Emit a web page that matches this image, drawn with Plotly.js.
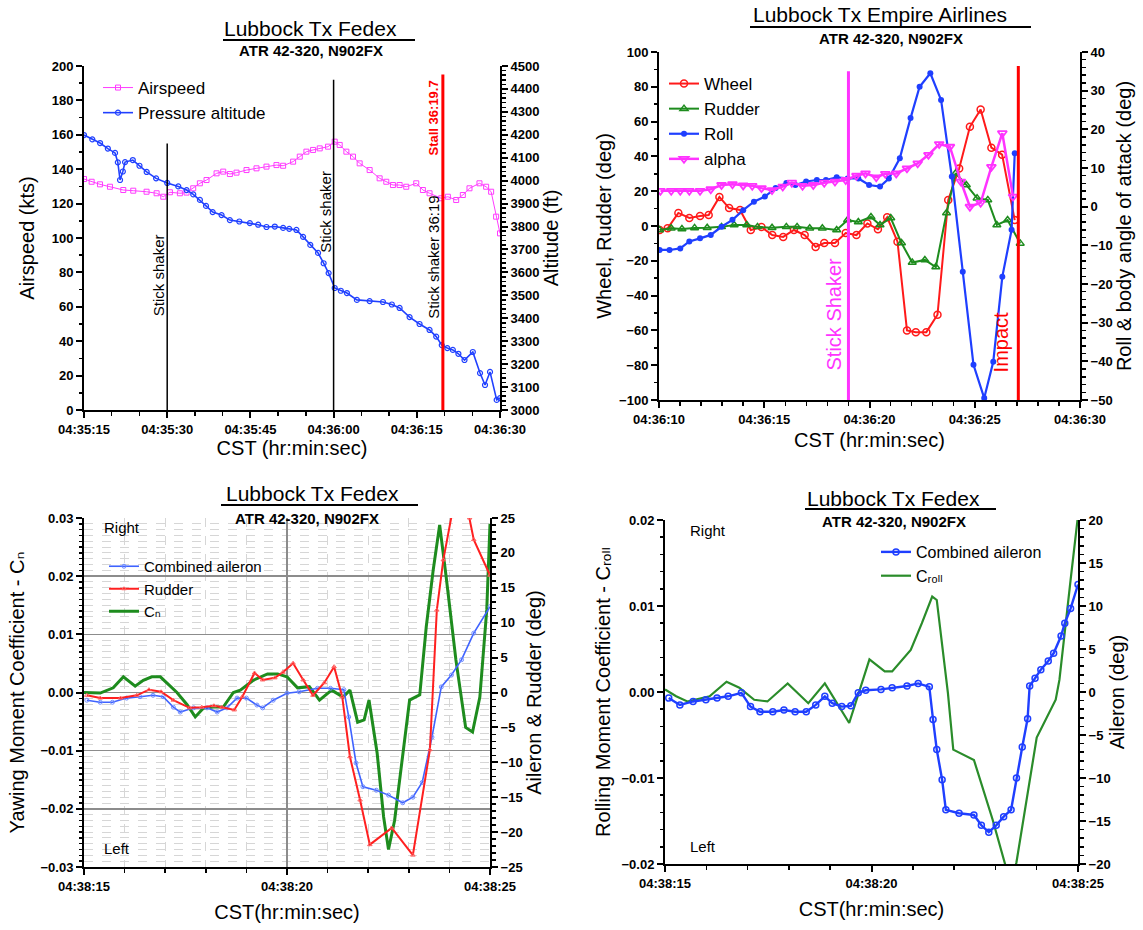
<!DOCTYPE html>
<html><head><meta charset="utf-8">
<script src="https://cdn.plot.ly/plotly-3.0.1.min.js"></script>
<style>html,body{margin:0;padding:0;background:#fff}#chart{width:1143px;height:930px}</style>
</head><body><div id="chart"></div>
<script>
// ---------------- DATA ----------------
// Top-left panel: seconds after 04:35:15
const tlTickVals = [0, 15, 30, 45, 60, 75];
const tlTickText = ["04:35:15", "04:35:30", "04:35:45", "04:36:00", "04:36:15", "04:36:30"];
const tlAirT = [0,1.38,2.88,4.68,7.08,8.88,11.28,13.09,14.29,15.49,17.29,18.49,19.69,20.89,22.09,23.9,25.1,26.3,27.5,29.3,31.1,32.9,34.7,35.9,37.7,38.9,40.1,41.3,42.5,44.0,45.2,46.1,47.3,48.5,49.7,51.5,53.3,54.5,55.7,56.9,58.1,59.9,61.1,62.3,64.4,65.6,67.1,68.3,69.5,71.3,72.5,73.4,74.3,75];
const tlAirKts = [134.3,132.7,131.2,129.8,127.9,127.5,126.9,126.0,124.0,126.6,126.0,126.4,128.9,131.8,133.7,137.6,138.6,137.2,138,139.5,140.5,141.5,142.4,142.0,144.4,147.3,150.2,151.2,152.1,153.1,156.0,154.1,150.2,147.3,143.4,139.5,134.7,132.7,130.8,130.8,129.8,131.8,127.9,126.0,123.1,124.0,122.1,125.0,128.9,131.8,129.8,126.9,112.4,102.7];
const tlAltT = [0,1.5,2.9,4.3,5.6,6.1,6.5,7,7.4,8.8,10,11.3,13,15,17,18.5,19.7,20.9,22,23.2,24.8,26.3,28,29.9,31.4,32.9,34.4,35.9,37,38.3,39.5,40.8,42.2,43.2,44.1,45.2,46.3,47.4,49.2,51.5,53.9,55.5,56.9,58.7,60.5,62.3,63.5,64.5,65.5,66.5,67.5,68.6,70.1,71.4,72.3,73.2,74.4,75];
const tlAltFt = [4199,4180,4164,4140,4121,4080,4003,4040,4081,4090,4065,4038,4010,3990,3975,3959,3940,3916,3890,3863,3850,3828,3822,3815,3808,3798,3800,3794,3790,3785,3755,3720,3685,3640,3597,3532,3520,3510,3480,3475,3471,3460,3445,3405,3375,3349,3320,3283,3270,3262,3245,3218,3253,3161,3109,3166,3044,3052];
const tlEventT = [15, 45, 64.7];
const tlEventTop = [155, 192, 195];
const tlEventColor = ["#000000", "#000000", "#ff0000"];

// Top-right panel: seconds after 04:36:10
const trTickVals = [0, 5, 10, 15, 20];
const trTickText = ["04:36:10", "04:36:15", "04:36:20", "04:36:25", "04:36:30"];
const trWheelT = [0.03,0.41,0.92,1.44,1.95,2.36,2.87,3.33,3.85,4.36,4.87,5.38,5.9,6.41,6.92,7.44,7.85,8.36,8.87,9.38,9.9,10.4,10.84,11.33,11.78,12.2,12.7,13.23,13.74,14.26,14.77,15.28,15.79,16.3,16.9];
const trWheel = [-2.3,-1.3,7.5,4.6,5.7,6.3,16.7,10.3,9.2,-2.3,-0.6,-5.2,-6.3,-2.3,-5.2,-12,-9.8,-9.8,-4,-5.2,1.5,-1.9,5,-9,-60,-61,-61,-51,15,33,57,67,45,41,3.4];
const trRudderT = [0.03,0.58,1.09,1.69,2.29,2.97,3.57,4.17,4.68,5.37,6.05,6.56,7.16,7.76,8.44,8.96,9.47,10.07,10.5,11.01,11.52,12.03,12.63,13.15,13.66,14.09,14.6,15.11,15.62,16.05,16.56,17.16];
const trRudder = [-2.3,-1.3,-1.7,-1.1,-1,-0.5,0.6,0.6,-0.5,-1,-0.5,-0.5,-1.3,-1.3,-2.3,3.4,2.3,5.2,0.6,4.6,-9.8,-21,-19.5,-23.6,7.5,30.3,23.6,16,15,0.6,3.4,-10];
const trRollT = [0.03,0.5,1.01,1.44,1.95,2.46,2.97,3.49,4.0,4.51,5.03,5.54,6.05,6.48,6.99,7.5,7.93,8.44,8.96,9.47,9.98,10.5,10.92,11.44,11.95,12.38,12.89,13.4,13.91,14.43,14.94,15.45,15.88,16.31,16.75,16.9];
const trRoll = [-11.2,-11.2,-10.8,-9.0,-8.2,-7.3,-5.2,-3.4,-0.9,1.3,2.6,4.8,6.1,5.6,6.5,6.9,6.9,7.6,7.3,7.3,5.6,5.2,7.3,12.5,22.9,31,34.5,27.6,7.8,-16.8,-40.9,-49.5,-40.1,-18.1,-6,13.8];
const trAlphaT = [0.07,0.58,1.01,1.44,1.95,2.46,2.97,3.49,4.0,4.43,4.87,5.37,5.88,6.31,6.82,7.33,7.85,8.36,8.87,9.38,9.81,10.32,10.75,11.27,11.78,12.29,12.8,13.31,13.82,14.34,14.77,15.28,15.79,16.31,16.82];
const trAlpha = [4.1,4.1,4.1,4.1,4.1,4.5,5.6,5.8,5.5,5.4,4.8,4.3,5.2,6.2,5.4,5.6,6.2,6.5,6.9,8.0,8.6,7.6,8.5,8.6,9.9,11.2,13.4,16.2,15.5,6.5,0,1,10.3,19,2.6];
const trEventT = [9.0, 17.07];
const trEventTop = [89, 92];
const trEventColor = ["#ff33ff", "#ff0000"];

// Bottom-left panel: seconds after 04:38:15
const blTickVals = [0, 5, 10];
const blTickText = ["04:38:15", "04:38:20", "04:38:25"];
const blCnT = [0,0.4,0.72,0.97,1.26,1.46,1.67,1.88,2.29,2.54,2.74,2.94,3.19,3.43,3.68,3.85,4.17,4.52,4.77,5.0,5.26,5.55,5.8,6.1,6.38,6.55,6.74,6.9,7.02,7.22,7.38,7.5,7.65,7.87,8.02,8.27,8.43,8.6,8.76,8.92,9.16,9.4,9.57,9.75,9.92,10.0];
const blCn = [0,-0.0001,0.0008,0.0027,0.0011,0.0021,0.0027,0.0027,0,-0.0021,-0.0042,-0.0027,-0.0025,-0.0025,0,0.0004,0.0021,0.0032,0.0032,0.0027,0.0008,0.0010,-0.0013,0.0004,-0.0008,0.0004,-0.0051,-0.0047,-0.0013,-0.0104,-0.0214,-0.0270,-0.0220,-0.0099,-0.0013,-0.0004,0.0113,0.0210,0.0288,0.0199,0.0056,-0.0060,-0.0068,-0.0008,0.0142,0.0290];
const blRudT = [0.07,0.4,0.9,1.3,1.6,1.9,2.2,2.6,2.9,3.2,3.4,3.7,3.9,4.2,4.4,4.7,4.9,5.15,5.4,5.64,5.92,6.16,6.36,6.55,6.8,7.04,7.58,8.1,8.52,8.69,8.85,9.05,9.3,9.5,9.6,10.0];
const blRud = [-0.4,-0.8,-0.8,-0.4,0.4,0.1,-1.1,-2.2,-2.1,-1.9,-2.1,-2.5,-0.6,2.8,1.8,2.1,2.9,4.2,1.8,-0.4,1.4,3.7,-0.6,-9.2,-15.4,-21.8,-19.4,-23.3,-8.2,11.8,19.0,25.2,30.5,25.0,21.9,16.8];
const blAilT = [0.07,0.4,0.7,1.05,1.38,1.7,1.95,2.2,2.37,2.7,3.03,3.28,3.52,3.77,4.0,4.26,4.4,4.66,5.0,5.3,5.75,6.07,6.4,6.52,6.7,6.87,7.2,7.5,7.85,8.1,8.33,8.57,8.8,9.05,9.3,9.6,10.0];
const blAil = [-1.1,-1.4,-1.4,-0.8,-0.6,-0.4,-0.6,-2.1,-2.8,-2.2,-2.2,-2.8,-2.2,-0.8,-0.8,-1.8,-2.2,-1.1,-0.1,0.1,0.6,0.6,0.4,-3.5,-10.1,-13.5,-14.0,-14.7,-15.8,-15.0,-12.9,-6.4,0.8,2.5,4.7,8.5,12.3];

// Bottom-right panel: seconds after 04:38:15
const brTickVals = [0, 5, 10];
const brTickText = ["04:38:15", "04:38:20", "04:38:25"];
const brCrollT = [0,0.27,0.54,1.08,1.49,1.8,2.16,2.48,2.97,3.47,3.87,4.46,4.95,5.32,5.5,5.95,6.22,6.47,6.58,6.85,6.98,7.48,7.93,8.24,8.38,8.51,9.0,9.46,9.55,9.82,10.0];
const brCroll = [0.0003,-0.0005,-0.0011,-0.0005,0.0012,0.0005,-0.0009,-0.0011,0.0010,-0.0013,0.0010,-0.0036,0.0038,0.0024,0.0024,0.0049,0.0080,0.0111,0.0107,-0.0001,-0.0067,-0.0079,-0.0148,-0.0198,-0.0225,-0.0198,-0.0053,-0.0009,0.0014,0.0130,0.0205];
const brAilT = [0.09,0.36,0.68,0.99,1.26,1.53,1.85,2.07,2.3,2.61,2.88,3.15,3.42,3.65,3.87,4.05,4.28,4.5,4.68,4.86,5.23,5.5,5.86,6.13,6.4,6.49,6.58,6.71,6.8,7.12,7.48,7.66,7.84,8.02,8.2,8.38,8.51,8.65,8.78,8.83,8.96,9.1,9.28,9.41,9.59,9.68,9.82,10.0];
const brAil = [-0.7,-1.5,-1.1,-0.9,-0.7,-0.5,-0.1,-1.7,-2.3,-2.3,-2.1,-2.3,-2.3,-1.5,-0.5,-1.3,-1.7,-1.6,-0.1,0.2,0.3,0.5,0.7,1.0,0.6,-3.2,-6.7,-10.2,-13.7,-14.1,-14.3,-15.5,-16.3,-15.5,-14.5,-13.7,-10.0,-6.4,-3.1,0.7,1.6,2.6,3.6,4.5,6.5,8.0,9.7,12.5];

// ---------------- LAYOUT HELPERS ----------------
const W = 1143, H = 930;
const FONT = "Liberation Sans, Arial, DejaVu Sans, sans-serif";
const fx = p => p / W;
const fy = p => 1 - p / H;
const domX = (a, b) => [a / W, b / W];
const domY = (top, bottom) => [1 - bottom / H, 1 - top / H];
const TITLE_FONT = {family: FONT, size: 20, color: "#000"};
const ttl = (text, standoff) => ({text: text, font: TITLE_FONT, standoff: standoff});
const CN = "C\u2099";                       // C subscript n
const CROLL = "C\u1D63\u2092\u2097\u2097";   // C subscript roll

function axis(extra, minorDtick, minorExtra) {
  const a = {
    showline: true, linecolor: "#000", linewidth: 2,
    ticks: "outside", ticklen: 6, tickwidth: 2, tickcolor: "#000",
    tickfont: {family: FONT, size: 13, color: "#000", weight: "bold"},
    showgrid: false, zeroline: false, mirror: false, fixedrange: true, automargin: false,
    minor: Object.assign({ticks: "outside", ticklen: 3.5, tickwidth: 1.5, tickcolor: "#000", tickmode: "linear", tick0: 0, dtick: minorDtick, showgrid: false}, minorExtra || {})
  };
  return Object.assign(a, extra);
}

const D = {
  tl: {x: [84, 500], y: [66, 410]},
  tr: {x: [659, 1080], y: [52, 400]},
  bl: {x: [84, 490], y: [518, 867]},
  br: {x: [665, 1078], y: [520, 864]}
};

const gridMinor = {showgrid: true, gridcolor: "#d6d6d6", gridwidth: 1, griddash: "dash"};
const gridMajor = {showgrid: true, gridcolor: "#8c8c8c", gridwidth: 1.5};

const layout = {
  width: W, height: H, margin: {l: 0, r: 0, t: 0, b: 0},
  paper_bgcolor: "#fff", plot_bgcolor: "rgba(0,0,0,0)",
  font: {family: FONT, color: "#000"},
  xaxis: axis({domain: domX(...D.tl.x), range: [0, 75], anchor: "y", tickmode: "array", tickvals: tlTickVals, ticktext: tlTickText,
    title: ttl("CST (hr:min:sec)", 3)}, 5),
  yaxis: axis({domain: domY(...D.tl.y), range: [0, 200], dtick: 20, anchor: "x", title: ttl("Airspeed (kts)", 12)}, 10),
  yaxis2: axis({overlaying: "y", side: "right", anchor: "x", range: [3000, 4500], dtick: 100, title: ttl("Altitude (ft)", 0)}, 20),
  xaxis2: axis({domain: domX(...D.tr.x), range: [0, 20], anchor: "y3", tickmode: "array", tickvals: trTickVals, ticktext: trTickText,
    title: ttl("CST (hr:min:sec)", 7)}, 1),
  yaxis3: axis({domain: domY(...D.tr.y), range: [-100, 100], dtick: 20, anchor: "x2", title: ttl("Wheel, Rudder (deg)", 2)}, 10),
  yaxis4: axis({overlaying: "y3", side: "right", anchor: "x2", range: [-50, 40], dtick: 10, title: ttl("Roll &amp; body angle of attack (deg)", 2)}, 2),
  xaxis3: axis(Object.assign({domain: domX(...D.bl.x), range: [0, 10], anchor: "y5", tickmode: "array", tickvals: blTickVals, ticktext: blTickText,
    title: ttl("CST(hr:min:sec)", 12)}, gridMajor), 1, gridMinor),
  yaxis5: axis(Object.assign({domain: domY(...D.bl.y), range: [-0.03, 0.03], dtick: 0.01, tickformat: ".2f", anchor: "x3",
    title: ttl("Yawing Moment Coefficient - " + CN, 10)}, gridMajor), 0.001, gridMinor),
  yaxis6: axis({overlaying: "y5", side: "right", anchor: "x3", range: [-25, 25], dtick: 5, title: ttl("Aileron &amp; Rudder (deg)", 0)}, 1),
  xaxis4: axis({domain: domX(...D.br.x), range: [0, 10], anchor: "y7", tickmode: "array", tickvals: brTickVals, ticktext: brTickText,
    title: ttl("CST(hr:min:sec)", 12)}, 1),
  yaxis7: axis({domain: domY(...D.br.y), range: [-0.02, 0.02], dtick: 0.01, tickformat: ".2f", anchor: "x4",
    title: ttl("Rolling Moment Coefficient - " + CROLL, 5)}, 0.002),
  yaxis8: axis({overlaying: "y7", side: "right", anchor: "x4", range: [-20, 20], dtick: 5, title: ttl("Aileron (deg)", 0)}, 1),
  legend: {x: fx(98), y: fy(70), xanchor: "left", yanchor: "top", bgcolor: "rgba(0,0,0,0)", font: {family: FONT, size: 17}, itemwidth: 30},
  legend2: {x: fx(664), y: fy(66), xanchor: "left", yanchor: "top", bgcolor: "rgba(0,0,0,0)", font: {family: FONT, size: 17}, itemwidth: 30},
  legend3: {x: fx(104), y: fy(550), xanchor: "left", yanchor: "top", bgcolor: "rgba(0,0,0,0)", font: {family: FONT, size: 15}, itemwidth: 30},
  legend4: {x: fx(876), y: fy(535), xanchor: "left", yanchor: "top", bgcolor: "rgba(0,0,0,0)", font: {family: FONT, size: 16}, itemwidth: 30},
  shapes: [],
  annotations: []
};

// ---------------- TRACES ----------------
const traces = [
  {x: tlAirT, y: tlAirKts, xaxis: "x", yaxis: "y", name: "Airspeed", legend: "legend", mode: "lines+markers",
   line: {color: "#ff3cff", width: 1}, marker: {symbol: "square-open", size: 5, color: "#ff3cff", line: {width: 1}}},
  {x: tlAltT, y: tlAltFt, xaxis: "x", yaxis: "y2", name: "Pressure altitude", legend: "legend", mode: "lines+markers",
   line: {color: "#2040ff", width: 1.6}, marker: {symbol: "circle-open", size: 5, color: "#2040ff", line: {width: 1.2}}},

  {x: trWheelT, y: trWheel, xaxis: "x2", yaxis: "y3", name: "Wheel", legend: "legend2", mode: "lines+markers",
   line: {color: "#ff1a1a", width: 2}, marker: {symbol: "circle-open", size: 7, color: "#ff1a1a", line: {width: 1.5}}},
  {x: trRudderT, y: trRudder, xaxis: "x2", yaxis: "y3", name: "Rudder", legend: "legend2", mode: "lines+markers",
   line: {color: "#1e8c1e", width: 2}, marker: {symbol: "triangle-up-open", size: 7, color: "#1e8c1e", line: {width: 1.5}}},
  {x: trRollT, y: trRoll, xaxis: "x2", yaxis: "y4", name: "Roll", legend: "legend2", mode: "lines+markers",
   line: {color: "#1f3fff", width: 2.2}, marker: {symbol: "circle", size: 6, color: "#1f3fff"}},
  {x: trAlphaT, y: trAlpha, xaxis: "x2", yaxis: "y4", name: "alpha", legend: "legend2", mode: "lines+markers",
   line: {color: "#ff33ff", width: 2.5}, marker: {symbol: "triangle-down-open", size: 8, color: "#ff33ff", line: {width: 1.8}}},

  {x: blAilT, y: blAil, xaxis: "x3", yaxis: "y6", name: "Combined aileron", legend: "legend3", legendrank: 1, mode: "lines+markers",
   line: {color: "#3f63ff", width: 1.6}, marker: {symbol: "circle-open", size: 4, color: "#6f8cff", line: {width: 1}}},
  {x: blCnT, y: blCn, xaxis: "x3", yaxis: "y5", name: CN, legend: "legend3", legendrank: 3, mode: "lines",
   line: {color: "#1e8c1e", width: 3}},
  {x: blRudT, y: blRud, xaxis: "x3", yaxis: "y6", name: "Rudder", legend: "legend3", legendrank: 2, mode: "lines+markers",
   line: {color: "#ff2020", width: 2}, marker: {symbol: "triangle-up-open", size: 4, color: "#ff6060", line: {width: 1}}},

  {x: brAilT, y: brAil, xaxis: "x4", yaxis: "y8", name: "Combined aileron", legend: "legend4", legendrank: 1, mode: "lines+markers",
   line: {color: "#1f3fff", width: 2.4}, marker: {symbol: "circle-open", size: 6, color: "#1f3fff", line: {width: 1.5}}},
  {x: brCrollT, y: brCroll, xaxis: "x4", yaxis: "y7", name: CROLL, legend: "legend4", legendrank: 2, mode: "lines",
   line: {color: "#2a8c2a", width: 2.2}}
];

// ---------------- EVENT LINES ----------------
tlEventT.forEach((t, i) => layout.shapes.push({type: "line", xref: "x", yref: "y", x0: t, x1: t, y0: 0, y1: tlEventTop[i],
  line: {color: tlEventColor[i], width: i === 2 ? 3 : 1.5}}));
trEventT.forEach((t, i) => layout.shapes.push({type: "line", xref: "x2", yref: "y3", x0: t, x1: t, y0: -100, y1: trEventTop[i],
  line: {color: trEventColor[i], width: 3}}));

// ---------------- TEXT ----------------
function ann(text, x, y, opts) {
  layout.annotations.push(Object.assign({text: text, x: x, y: y, xref: "paper", yref: "paper", showarrow: false,
    xanchor: "center", yanchor: "middle", font: {family: FONT, size: 20, color: "#000"}}, opts || {}));
}
function title(main, sub, cx, yMain, ul0, ul1, yUl, ySub, subCx) {
  ann(main, fx(cx), fy(yMain), {font: {family: FONT, size: 21, color: "#000"}});
  ann("<b>" + sub + "</b>", fx(subCx), fy(ySub), {font: {family: FONT, size: 15, color: "#000"}});
  layout.shapes.push({type: "line", xref: "paper", yref: "paper", x0: fx(ul0), x1: fx(ul1), y0: fy(yUl), y1: fy(yUl), line: {color: "#000", width: 2}});
}
title("Lubbock Tx Fedex", "ATR 42-320, N902FX", 310, 29, 223, 415, 40, 51, 311);
title("Lubbock Tx Empire Airlines", "ATR 42-320, N902FX", 880, 15, 750, 1031, 27, 38, 891);
title("Lubbock Tx Fedex", "ATR 42-320, N902FX", 312, 494, 221, 418, 505, 518, 307);
title("Lubbock Tx Fedex", "ATR 42-320, N902FX", 893, 499, 805, 996, 509, 521, 894);

// Right / Left labels
ann("Right", fx(122), fy(527), {font: {family: FONT, size: 15, color: "#000"}});
ann("Left", fx(117), fy(848), {font: {family: FONT, size: 15, color: "#000"}});
ann("Right", fx(708), fy(530), {font: {family: FONT, size: 15, color: "#000"}});
ann("Left", fx(703), fy(846), {font: {family: FONT, size: 15, color: "#000"}});

// event labels (data coords)
function evt(text, xr, yr, x, y, xshift, size, color, bold) {
  layout.annotations.push({text: bold ? "<b>" + text + "</b>" : text, x: x, y: y, xref: xr, yref: yr, xshift: xshift,
    showarrow: false, textangle: -90, xanchor: "center", yanchor: "middle", font: {family: FONT, size: size, color: color}});
}
evt("Stick shaker", "x", "y", tlEventT[0], 78.5, -8, 15, "#000");
evt("Stick shaker", "x", "y", tlEventT[1], 115, -8, 15, "#000");
evt("Stall 36:19.7", "x", "y", tlEventT[2], 170, -9, 13, "#ff0000", true);
evt("Stick shaker 36:19", "x", "y", tlEventT[2], 89, -9, 15, "#000");
evt("Stick Shaker", "x2", "y3", trEventT[0], -50.6, -14, 20, "#ff33ff");
evt("Impact", "x2", "y3", trEventT[1], -66.7, -17, 20, "#ff0000");

Plotly.newPlot("chart", traces, layout, {displayModeBar: false, staticPlot: true});
</script></body></html>
